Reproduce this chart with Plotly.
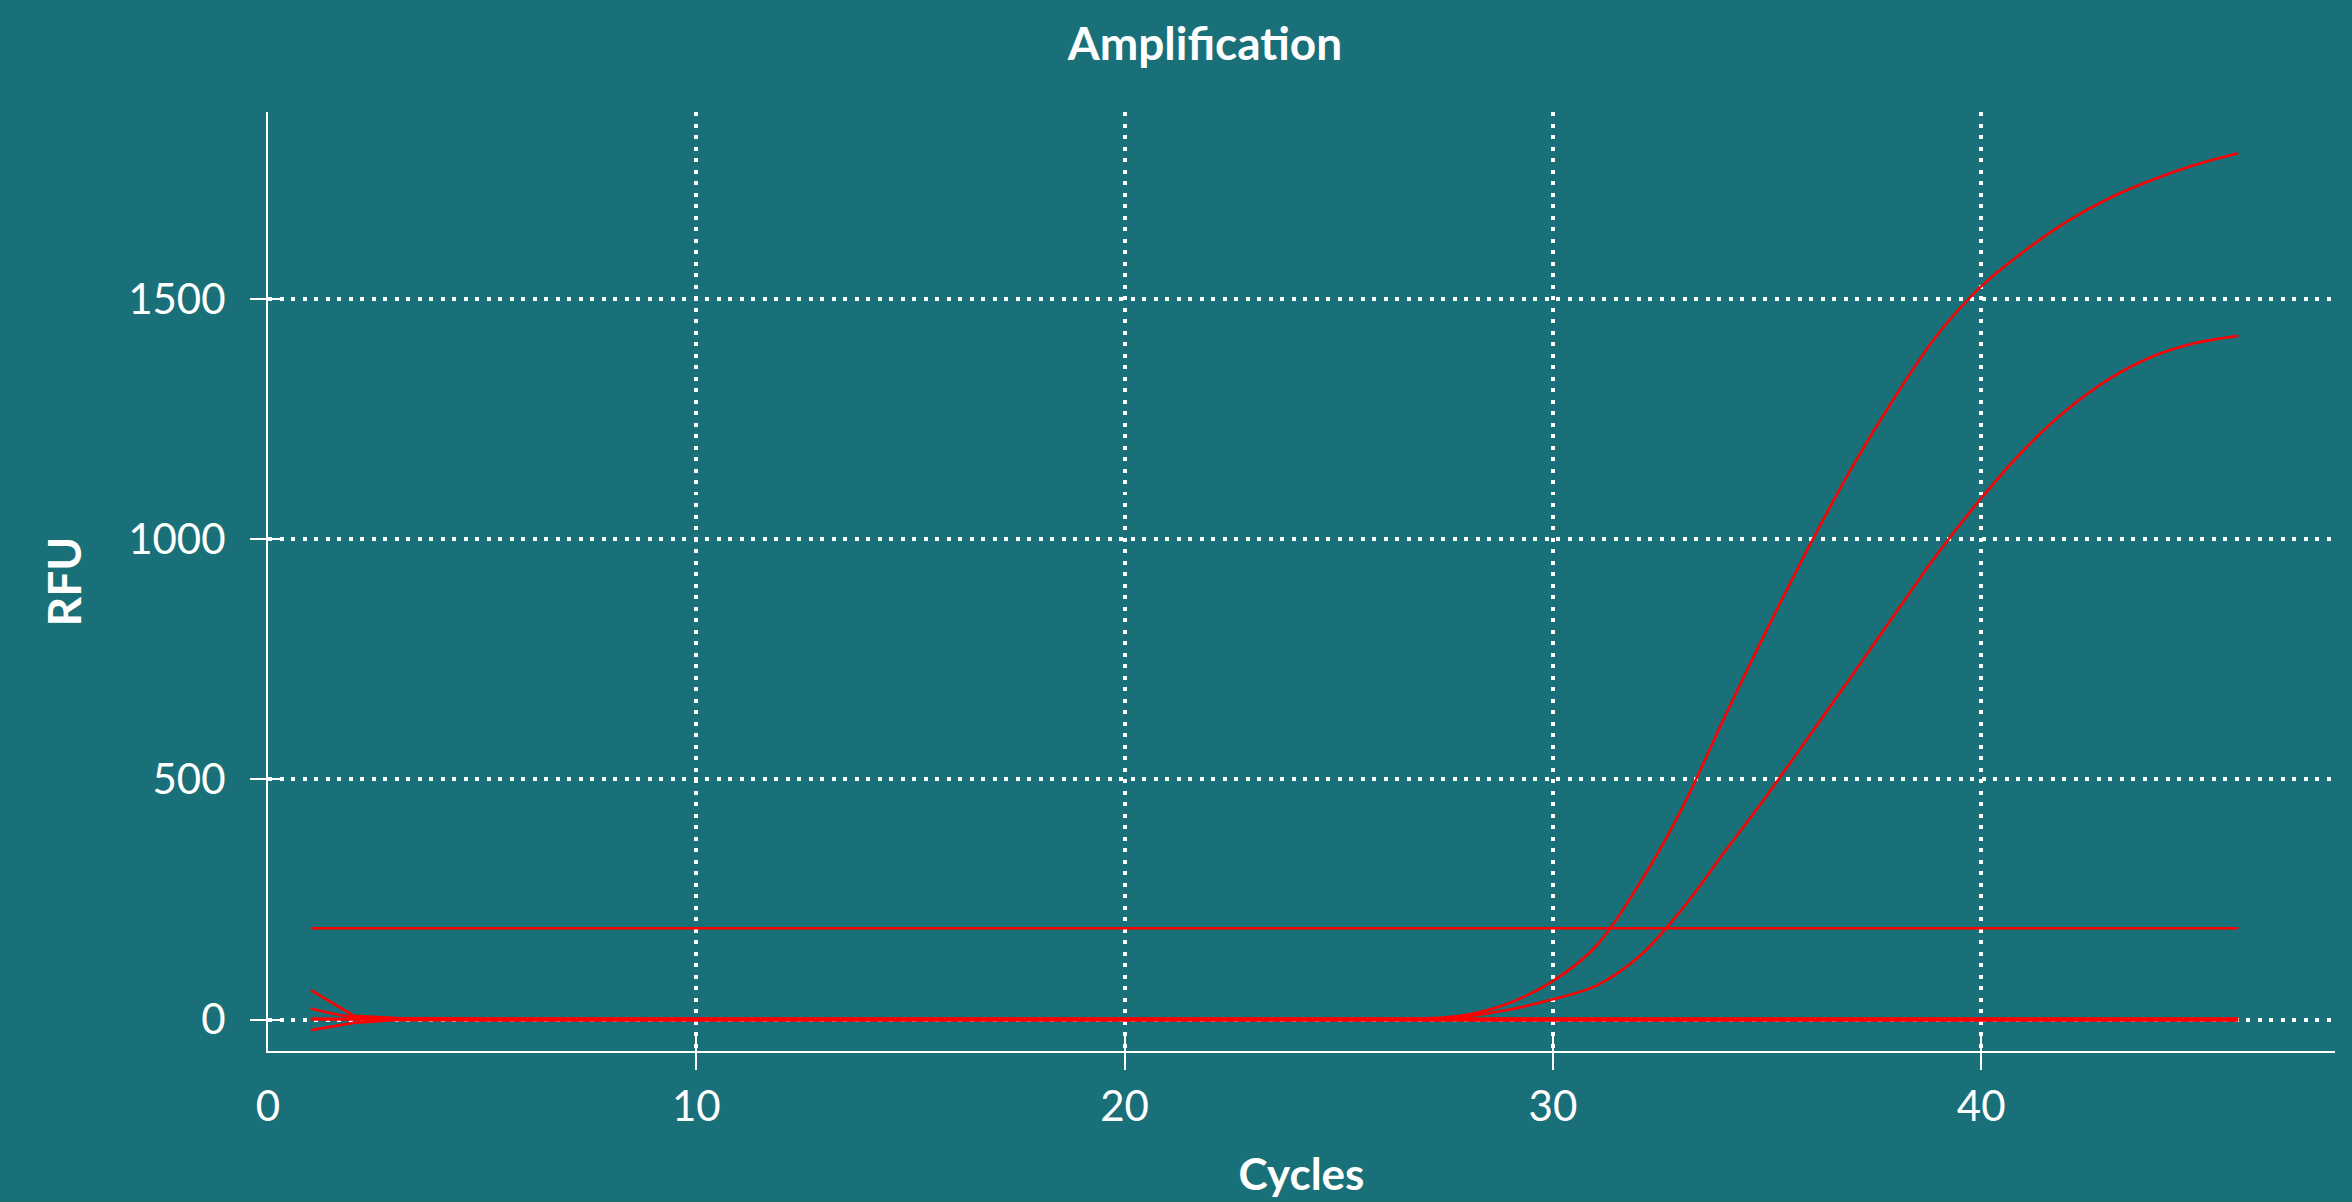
import plotly.graph_objects as go

# ---------------- data ----------------
cycles = [1, 2, 3, 4, 5, 6, 7, 8, 9, 10, 11, 12, 13, 14, 15, 16, 17, 18, 19, 20, 21, 22, 23,
          24, 25, 26, 27, 28, 29, 30, 31, 32, 33, 34, 35, 36, 37, 38, 39, 40, 41, 42, 43, 44, 45, 46]

sample_a = [23, 5, 2, 1, 1, 1, 1, 1, 1, 1, 1, 1, 1, 1, 1, 1, 1, 1, 1, 1, 1, 1, 1,
            1, 1, 1, 2, 10, 35, 80, 152, 280, 437, 628, 812, 988, 1152, 1298, 1428, 1526,
            1599, 1661, 1710, 1748, 1779, 1803]

sample_b = [2, 1, 0, 0, 0, 0, 0, 0, 0, 0, 0, 0, 0, 0, 0, 0, 0, 0, 0, 0, 0, 0, 0,
            0, 0, 0, 0, 7, 21, 42, 70, 130, 228, 348, 467, 592, 718, 846, 972, 1085,
            1186, 1269, 1334, 1380, 1408, 1423]

sample_c = [61, 8, 3, 2, 2, 2, 2, 2, 2, 2, 2, 2, 2, 2, 2, 2, 2, 2, 2, 2, 2, 2, 2,
            2, 2, 2, 2, 2, 2, 2, 2, 2, 2, 2, 2, 2, 2, 2, 2, 2, 2, 2, 2, 2, 2, 2]

sample_d = [-22, -7, -1, -2, -2, -2, -2, -2, -2, -2, -2, -2, -2, -2, -2, -2, -2, -2, -2, -2, -2, -2, -2,
            -2, -2, -2, -2, -2, -2, -2, -2, -2, -2, -2, -2, -2, -2, -2, -2, -2, -2, -2, -2, -2, -2, -2]

sample_e = [0, 0, 0, 0, 0, 0, 0, 0, 0, 0, 0, 0, 0, 0, 0, 0, 0, 0, 0, 0, 0, 0, 0,
            0, 0, 0, 0, 0, 0, 0, 0, 0, 0, 0, 0, 0, 0, 0, 0, 0, 0, 0, 0, 0, 0, 0]

threshold_cycles = [1, 46]
threshold_rfu = [190, 190]

x_label_vals = [0, 10, 20, 30, 40]
x_label_text = ["0", "10", "20", "30", "40"]
x_tick_vals = [10, 20, 30, 40]
y_tick_vals = [0, 500, 1000, 1500]
y_tick_text = ["0", "500", "1000", "1500"]

# ---------------- style ----------------
BG = "#1a7079"
RED = "#ff0000"
WHITE = "#ffffff"
FONT = "Lato"
DOTS = "4px,7.5px"

fig = go.Figure()

for s in [sample_e, sample_c, sample_d]:
    fig.add_trace(go.Scatter(x=cycles, y=s, mode="lines",
                             line=dict(color=RED, width=2.6), hoverinfo="skip"))
for s in [sample_b, sample_a]:
    fig.add_trace(go.Scatter(x=cycles, y=s, mode="lines",
                             line=dict(color=RED, width=2.6, shape="spline", smoothing=1.0),
                             hoverinfo="skip"))

fig.add_trace(go.Scatter(x=threshold_cycles, y=threshold_rfu, mode="lines",
                         line=dict(color=RED, width=2.6), hoverinfo="skip"))

# empty helper traces so the overlay axes are instantiated
fig.add_trace(go.Scatter(x=[], y=[], xaxis="x2", yaxis="y", showlegend=False))
fig.add_trace(go.Scatter(x=[], y=[], xaxis="x3", yaxis="y", showlegend=False))
fig.add_trace(go.Scatter(x=[], y=[], xaxis="x", yaxis="y2", showlegend=False))

xr = [0, 48.26]
yr = [-65.5, 1889]

fig.update_layout(
    width=2352, height=1202,
    paper_bgcolor=BG, plot_bgcolor=BG,
    margin=dict(l=268, r=17, t=112, b=151, autoexpand=False),
    showlegend=False,
    title=dict(text="Amplification", x=1205 / 2352, xref="container", xanchor="center",
               y=1 - 44 / 1202, yref="container", yanchor="middle",
               font=dict(family=FONT, size=46, color=WHITE, weight="bold")),
    xaxis=dict(range=xr, tickvals=x_label_vals, ticktext=x_label_text, ticks="",
               automargin=False,
               showgrid=False, zeroline=False, showline=True, linecolor=WHITE, linewidth=2,
               tickfont=dict(family=FONT, size=42, color=WHITE), ticklabelstandoff=18,
               title=dict(text="Cycles", standoff=30,
                          font=dict(family=FONT, size=44, color=WHITE, weight="bold"))),
    xaxis2=dict(range=xr, overlaying="x", anchor="y", side="bottom", automargin=False,
                tickvals=x_tick_vals, ticks="outside", ticklen=18, tickwidth=2, tickcolor=WHITE,
                showticklabels=False, showgrid=True, gridcolor=WHITE, gridwidth=4, griddash=DOTS,
                zeroline=False, showline=False),
    xaxis3=dict(range=xr, overlaying="x", anchor="y", side="bottom", automargin=False,
                tickvals=x_tick_vals, ticks="inside", ticklen=18, tickwidth=2, tickcolor=WHITE,
                showticklabels=False, showgrid=False, zeroline=False, showline=False),
    yaxis=dict(range=yr, tickvals=y_tick_vals, ticktext=y_tick_text, automargin=False,
               ticks="outside", ticklen=16, tickwidth=2, tickcolor=WHITE,
               showgrid=True, gridcolor=WHITE, gridwidth=4, griddash=DOTS,
               zeroline=False, showline=True, linecolor=WHITE, linewidth=2,
               tickfont=dict(family=FONT, size=42, color=WHITE), ticklabelstandoff=16,
               title=dict(text="RFU", standoff=32,
                          font=dict(family=FONT, size=46, color=WHITE, weight="bold"))),
    yaxis2=dict(range=yr, overlaying="y", anchor="x", side="left", automargin=False,
                tickvals=y_tick_vals, ticks="inside", ticklen=16, tickwidth=2, tickcolor=WHITE,
                showticklabels=False, showgrid=False, zeroline=False, showline=False),
)

fig.write_html("out.html", config={"displayModeBar": False},
               post_script="document.body.style.margin='0';document.body.style.overflow='hidden';")
